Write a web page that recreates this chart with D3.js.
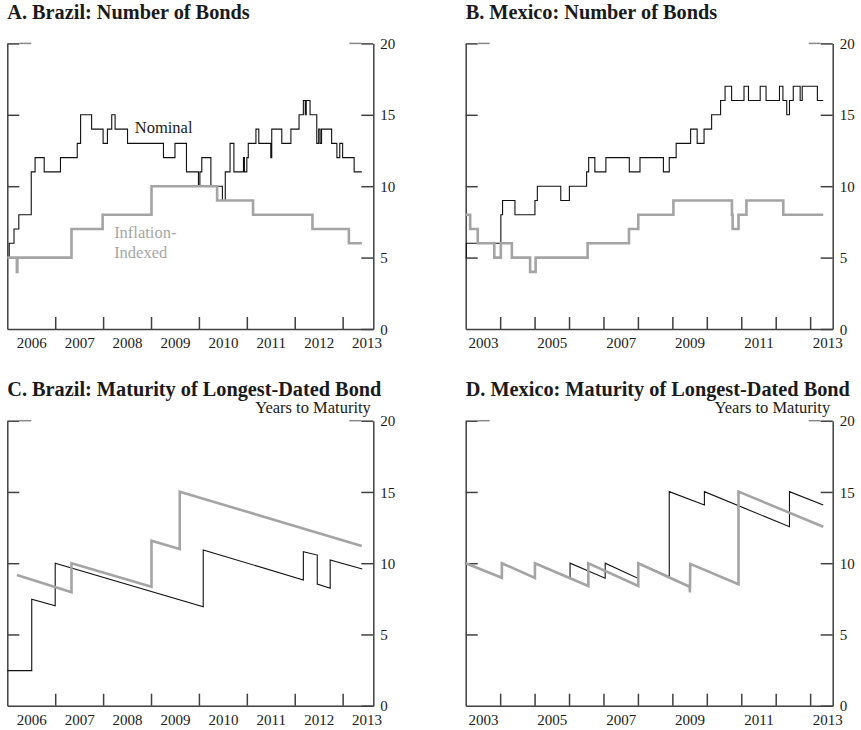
<!DOCTYPE html>
<html>
<head>
<meta charset="utf-8">
<script src="https://cdn.jsdelivr.net/npm/d3@7"></script>
<style>
  body { margin: 0; background: #fff; }
  svg { display: block; font-family: "Liberation Serif", "Times New Roman", serif; }
</style>
</head>
<body>
<svg id="chart" width="861" height="730"></svg>
<script>
// ---- Data: [decimal year, value] ----
// Number of bonds outstanding (step series: value holds until the next point)
const brNominalCount = [
  [2006.00,5],[2006.04,6],[2006.14,7],[2006.24,8],[2006.50,11],[2006.58,12],[2006.77,11],
  [2007.11,12],[2007.46,13],[2007.53,15],[2007.76,14],[2008.00,13],[2008.09,14],[2008.18,15],
  [2008.25,14],[2008.51,13],[2009.26,12],[2009.50,13],[2009.74,11],[2009.99,10],[2010.02,11],
  [2010.06,12],[2010.25,10],[2010.49,9],[2010.55,11],[2010.65,13],[2010.73,11],[2010.93,12],
  [2010.95,11],[2011.00,12],[2011.03,13],[2011.19,14],[2011.25,13],[2011.50,12],[2011.52,14],
  [2011.73,13],[2011.92,14],[2012.09,15],[2012.18,16],[2012.22,15],[2012.24,16],[2012.32,15],
  [2012.46,13],[2012.50,14],[2012.53,13],[2012.56,14],[2012.77,13],[2012.88,12],[2012.94,13],
  [2013.00,12],[2013.24,11],[2013.40,11]
];
const brIndexedCount = [
  [2006.00,5],[2006.20,4],[2006.21,5],[2007.34,7],[2007.99,8],[2009.01,10],[2010.38,9],
  [2011.13,8],[2012.37,7],[2013.13,6],[2013.40,6]
];
const mxNominalCount = [
  [2003.00,5],[2003.02,6],[2004.02,8],[2004.07,9],[2004.43,8],[2005.01,9],[2005.08,10],
  [2005.76,9],[2006.01,10],[2006.51,11],[2006.57,12],[2006.75,11],[2007.07,12],[2007.75,11],
  [2008.06,12],[2008.74,11],[2008.91,12],[2009.11,13],[2009.53,14],[2009.72,13],[2009.92,14],
  [2010.14,15],[2010.40,16],[2010.53,17],[2010.72,16],[2011.08,17],[2011.21,16],[2011.55,17],
  [2011.72,16],[2012.11,17],[2012.21,16],[2012.32,15],[2012.40,16],[2012.51,17],[2012.71,16],
  [2012.77,17],[2013.21,16],[2013.38,16]
];
const mxIndexedCount = [
  [2003.00,8],[2003.13,7],[2003.35,6],[2003.83,5],[2004.02,6],[2004.34,5],[2004.87,4],
  [2005.03,5],[2006.54,6],[2007.74,7],[2008.01,8],[2009.03,9],[2010.73,8],[2010.75,7],
  [2010.92,8],[2011.15,9],[2012.22,8],[2013.38,8]
];

// Years to maturity of the longest-dated bond (piecewise linear, jumps at new issues)
const brNominalMaturity = [
  [2006.00,2.46],[2006.51,2.46],[2006.51,7.47],[2007.00,7.02],[2007.00,10.0],[2010.09,6.95],
  [2010.09,10.93],[2012.18,8.82],[2012.18,10.8],[2012.47,10.57],[2012.47,8.54],[2012.74,8.24],
  [2012.74,10.22],[2013.41,9.59]
];
const brIndexedMaturity = [
  [2006.20,9.17],[2007.34,7.96],[2007.34,9.99],[2009.01,8.35],[2009.01,11.58],[2009.60,11.0],
  [2009.60,15.02],[2013.40,11.2]
];
const mxNominalMaturity = [
  [2003.00,10.0],[2004.05,8.98],[2004.05,10.0],[2005.01,8.96],[2005.01,10.0],[2006.03,8.95],
  [2006.03,10.0],[2007.05,8.95],[2007.05,10.0],[2008.00,8.94],[2008.01,8.4],[2008.01,10.0],
  [2008.91,9.05],[2008.91,15.02],[2009.93,14.08],[2009.93,15.02],[2012.40,12.56],
  [2012.40,15.02],[2013.38,14.08]
];
const mxIndexedMaturity = [
  [2003.00,10.0],[2004.05,8.98],[2004.05,10.0],[2005.01,8.96],[2005.01,10.0],[2006.56,8.4],
  [2006.56,10.0],[2008.01,8.4],[2008.01,10.0],[2009.50,8.35],[2009.51,7.95],[2009.52,9.95],
  [2010.92,8.52],[2010.92,15.02],[2013.38,12.56]
];

// Axis labels
const yTicks = [0, 5, 10, 15, 20];
const brYearLabels = [2006, 2007, 2008, 2009, 2010, 2011, 2012, 2013];
const brYearTicks = [2007, 2008, 2009, 2010, 2011, 2012, 2013];
const mxYearLabels = [2003, 2005, 2007, 2009, 2011, 2013];
const mxYearTicks = [2004, 2005, 2006, 2007, 2008, 2009, 2010, 2011, 2012, 2013];

const panels = [
  { title: "A. Brazil: Number of Bonds", left: 7.3, right: 373.3, top: 43.4, bottom: 329,
    domain: [2006, 2013.64], labels: brYearLabels, ticks: brYearTicks,
    nominal: brNominalCount, indexed: brIndexedCount, step: true, units: false, notes: true },
  { title: "B. Mexico: Number of Bonds", left: 465.7, right: 832.7, top: 43.4, bottom: 329,
    domain: [2003, 2013.655], labels: mxYearLabels, ticks: mxYearTicks,
    nominal: mxNominalCount, indexed: mxIndexedCount, step: true, units: false, notes: false },
  { title: "C. Brazil: Maturity of Longest-Dated Bond", left: 7.3, right: 373.3, top: 420.7, bottom: 705.7,
    domain: [2006, 2013.64], labels: brYearLabels, ticks: brYearTicks,
    nominal: brNominalMaturity, indexed: brIndexedMaturity, step: false, units: true, notes: false },
  { title: "D. Mexico: Maturity of Longest-Dated Bond", left: 465.7, right: 832.7, top: 420.7, bottom: 705.7,
    domain: [2003, 2013.655], labels: mxYearLabels, ticks: mxYearTicks,
    nominal: mxNominalMaturity, indexed: mxIndexedMaturity, step: false, units: true, notes: false }
];

const svg = d3.select("#chart");
svg.append("rect").attr("width", 861).attr("height", 730).attr("fill", "#fff");

const axisColor = "#404040";
const textColor = "#1a1a1a";

panels.forEach(p => {
  const x = d3.scaleLinear().domain(p.domain).range([p.left, p.right]);
  const y = d3.scaleLinear().domain([0, 20]).range([p.bottom, p.top]);
  const g = svg.append("g");

  // Title
  g.append("text")
    .attr("x", p.left).attr("y", p.top - (p.units ? 24.7 : 24))
    .attr("font-size", 20.3).attr("font-weight", "bold").attr("fill", textColor)
    .text(p.title);

  if (p.units) {
    g.append("text")
      .attr("x", p.right - 2.5).attr("y", p.top - 7.5)
      .attr("text-anchor", "end").attr("font-size", 16.5).attr("fill", textColor)
      .text("Years to Maturity");
  }

  // Left axis: ticks pointing inward, no labels
  const leftAxis = g.append("g").attr("transform", `translate(${p.left},0)`)
    .call(d3.axisRight(y).tickValues(yTicks.slice(1)).tickSize(12).tickSizeOuter(0).tickFormat(""));
  // Right axis: ticks pointing inward, labels outside
  const rightAxis = g.append("g").attr("transform", `translate(${p.right},0)`)
    .call(d3.axisRight(y).tickValues(yTicks).tickSize(-12).tickSizeOuter(0).tickPadding(7));
  rightAxis.selectAll("text").attr("font-size", 15).attr("fill", textColor)
    .attr("font-family", '"Liberation Serif", serif').attr("dy", "0.34em");

  // Longer top tick on both sides
  g.append("line").attr("x1", p.left + 12).attr("x2", p.left + 24)
    .attr("y1", y(20)).attr("y2", y(20)).attr("stroke", "#888").attr("stroke-width", 1.5);
  g.append("line").attr("x1", p.right - 24).attr("x2", p.right - 12)
    .attr("y1", y(20)).attr("y2", y(20)).attr("stroke", "#888").attr("stroke-width", 1.5);

  // Bottom axis: year-boundary ticks pointing up
  const bottomAxis = g.append("g").attr("transform", `translate(0,${p.bottom})`)
    .call(d3.axisTop(x).tickValues(p.ticks).tickSize(12).tickSizeOuter(0).tickFormat(""));
  // Year labels centred in each year
  const labelAxis = g.append("g").attr("transform", `translate(0,${p.bottom})`)
    .call(d3.axisBottom(x).tickValues(p.labels.map(v => v + 0.5)).tickSize(0).tickPadding(8.8)
      .tickFormat(v => String(Math.floor(v))));
  labelAxis.select(".domain").remove();
  labelAxis.selectAll("text").attr("font-size", 15).attr("fill", textColor)
    .attr("font-family", '"Liberation Serif", serif');

  [leftAxis, rightAxis, bottomAxis].forEach(a => {
    a.selectAll(".domain, line").attr("stroke", axisColor).attr("stroke-width", 1.5);
  });

  // Series
  const line = d3.line().x(d => x(d[0])).y(d => y(d[1]))
    .curve(p.step ? d3.curveStepAfter : d3.curveLinear);

  g.append("path").datum(p.nominal).attr("d", line)
    .attr("fill", "none").attr("stroke", "#111").attr("stroke-width", 1.1)
    .attr("stroke-linejoin", "miter");
  g.append("path").datum(p.indexed).attr("d", line)
    .attr("fill", "none").attr("stroke", "#a4a4a4").attr("stroke-width", 2.6)
    .attr("stroke-linejoin", "miter");

  if (p.notes) {
    g.append("text").attr("x", x(2008.66)).attr("y", y(13.7))
      .attr("font-size", 16.5).attr("fill", textColor).text("Nominal");
    const t = g.append("text").attr("font-size", 16.5).attr("fill", "#a6a6a6");
    t.append("tspan").attr("x", x(2008.23)).attr("y", y(6.35)).text("Inflation-");
    t.append("tspan").attr("x", x(2008.23)).attr("y", y(5.0)).text("Indexed");
  }
});
</script>
</body>
</html>
